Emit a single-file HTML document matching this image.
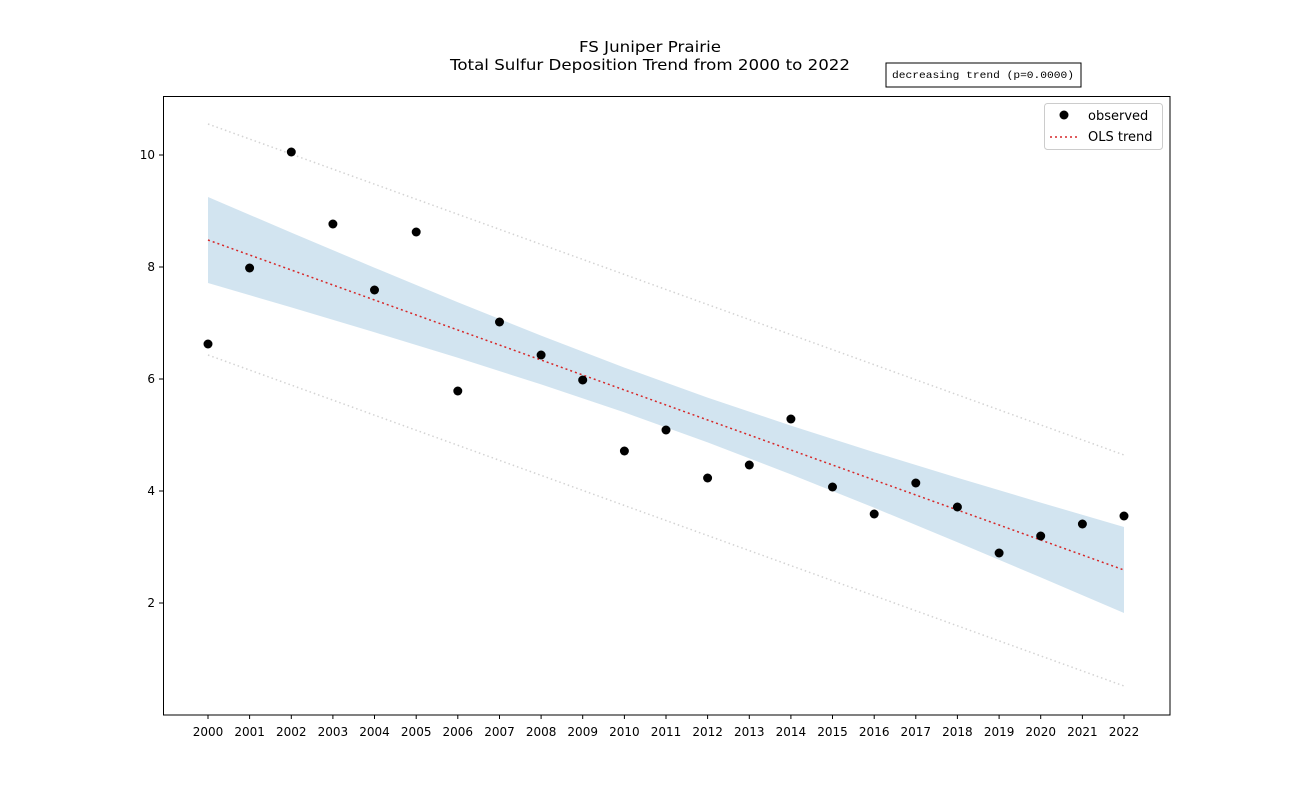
<!DOCTYPE html>
<html><head><meta charset="utf-8"><style>
html,body{margin:0;padding:0;background:#fff;}
svg{display:block;font-family:"DejaVu Sans","Liberation Sans",sans-serif;}
</style></head><body>
<svg width="1300" height="803" viewBox="0 0 1300 803" xmlns="http://www.w3.org/2000/svg">
<rect width="1300" height="803" fill="#fff"/>
<text x="650" y="52" font-size="15" text-anchor="middle" textLength="142" lengthAdjust="spacingAndGlyphs">FS Juniper Prairie</text>
<text x="650" y="70" font-size="15" text-anchor="middle" textLength="400" lengthAdjust="spacingAndGlyphs">Total Sulfur Deposition Trend from 2000 to 2022</text>
<rect x="886" y="63" width="195" height="24" fill="#fff" stroke="#000" stroke-width="1"/>
<text x="983" y="78" font-size="10.5" font-family="Liberation Mono, monospace" text-anchor="middle" textLength="182" lengthAdjust="spacingAndGlyphs">decreasing trend (p=0.0000)</text>
<polygon fill="#1f77b4" fill-opacity="0.2" points="208,197 291.3,232.6 374.5,267.7 457.8,302.2 541.1,335.6 624.4,367.6 707.6,397.6 790.9,425.6 874.2,452.2 957.4,477.7 1040.7,502.6 1124,527 1124,613 1040.7,577.4 957.4,542.3 874.2,507.8 790.9,474.4 707.6,442.4 624.4,412.4 541.1,384.4 457.8,357.8 374.5,332.3 291.3,307.4 208,283"/>
<line x1="208" y1="124" x2="1124" y2="455" stroke="#d3d3d3" stroke-width="1.5" stroke-dasharray="1.5,3"/>
<line x1="208" y1="355" x2="1124" y2="686" stroke="#d3d3d3" stroke-width="1.5" stroke-dasharray="1.5,3"/>
<line x1="208" y1="240" x2="1124" y2="570" stroke="#d62728" stroke-width="1.5" stroke-dasharray="2,3"/>
<g fill="#000">
<circle cx="208" cy="344" r="4.5"/><circle cx="249.6" cy="268" r="4.5"/><circle cx="291.3" cy="152" r="4.5"/><circle cx="332.9" cy="224" r="4.5"/><circle cx="374.5" cy="290" r="4.5"/><circle cx="416.2" cy="232" r="4.5"/><circle cx="457.8" cy="391" r="4.5"/><circle cx="499.5" cy="322" r="4.5"/><circle cx="541.1" cy="355" r="4.5"/><circle cx="582.7" cy="380" r="4.5"/><circle cx="624.4" cy="451" r="4.5"/><circle cx="666" cy="430" r="4.5"/><circle cx="707.6" cy="478" r="4.5"/><circle cx="749.3" cy="465" r="4.5"/><circle cx="790.9" cy="419" r="4.5"/><circle cx="832.5" cy="487" r="4.5"/><circle cx="874.2" cy="514" r="4.5"/><circle cx="915.8" cy="483" r="4.5"/><circle cx="957.4" cy="507" r="4.5"/><circle cx="999.1" cy="553" r="4.5"/><circle cx="1040.7" cy="536" r="4.5"/><circle cx="1082.4" cy="524" r="4.5"/><circle cx="1124" cy="516" r="4.5"/>
</g>
<rect x="163.5" y="96.5" width="1006.5" height="618.5" fill="none" stroke="#000" stroke-width="1"/>
<g stroke="#000" stroke-width="1">
<line x1="159" y1="155" x2="163" y2="155"/><line x1="159" y1="267" x2="163" y2="267"/><line x1="159" y1="379" x2="163" y2="379"/><line x1="159" y1="491" x2="163" y2="491"/><line x1="159" y1="603" x2="163" y2="603"/>
</g>
<g font-size="12" text-anchor="end">
<text x="155" y="159">10</text><text x="155" y="271">8</text><text x="155" y="383">6</text><text x="155" y="495">4</text><text x="155" y="607">2</text>
</g>
<g font-size="12" text-anchor="middle">
<text x="208" y="736">2000</text><text x="249.6" y="736">2001</text><text x="291.3" y="736">2002</text><text x="332.9" y="736">2003</text><text x="374.5" y="736">2004</text><text x="416.2" y="736">2005</text><text x="457.8" y="736">2006</text><text x="499.5" y="736">2007</text><text x="541.1" y="736">2008</text><text x="582.7" y="736">2009</text><text x="624.4" y="736">2010</text><text x="666" y="736">2011</text><text x="707.6" y="736">2012</text><text x="749.3" y="736">2013</text><text x="790.9" y="736">2014</text><text x="832.5" y="736">2015</text><text x="874.2" y="736">2016</text><text x="915.8" y="736">2017</text><text x="957.4" y="736">2018</text><text x="999.1" y="736">2019</text><text x="1040.7" y="736">2020</text><text x="1082.4" y="736">2021</text><text x="1124" y="736">2022</text>
</g>
<g stroke="#000" stroke-width="1">
<path d="M208 715v4M249.6 715v4M291.3 715v4M332.9 715v4M374.5 715v4M416.2 715v4M457.8 715v4M499.5 715v4M541.1 715v4M582.7 715v4M624.4 715v4M666 715v4M707.6 715v4M749.3 715v4M790.9 715v4M832.5 715v4M874.2 715v4M915.8 715v4M957.4 715v4M999.1 715v4M1040.7 715v4M1082.4 715v4M1124 715v4"/>
</g>
<rect x="1044.5" y="103.5" width="118" height="46" rx="3" fill="#fff" fill-opacity="0.8" stroke="#ccc"/>
<circle cx="1064" cy="115" r="4.5" fill="#000"/>
<text x="1088" y="120" font-size="13">observed</text>
<line x1="1050" y1="137" x2="1078" y2="137" stroke="#d62728" stroke-width="1.5" stroke-dasharray="2,3"/>
<text x="1088" y="141" font-size="13">OLS trend</text>
</svg>
</body></html>
